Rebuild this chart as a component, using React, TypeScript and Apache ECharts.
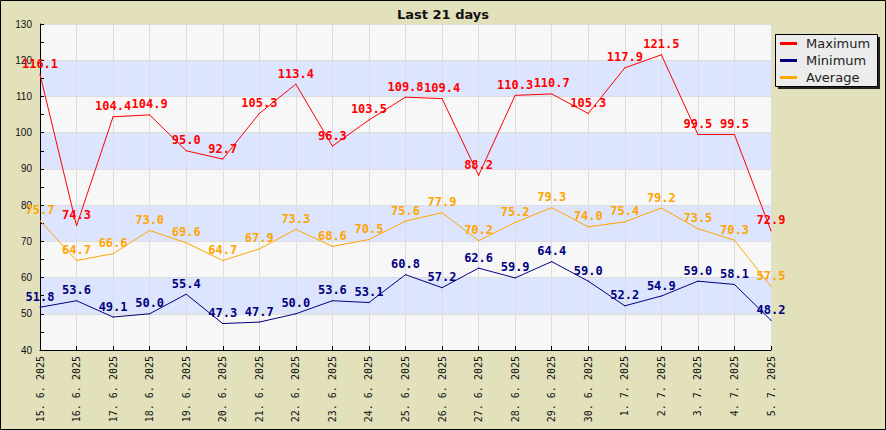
import React, { useEffect, useRef } from "react";
import * as echarts from "echarts";

const categories = [
  "15. 6. 2025", "16. 6. 2025", "17. 6. 2025", "18. 6. 2025", "19. 6. 2025",
  "20. 6. 2025", "21. 6. 2025", "22. 6. 2025", "23. 6. 2025", "24. 6. 2025",
  "25. 6. 2025", "26. 6. 2025", "27. 6. 2025", "28. 6. 2025", "29. 6. 2025",
  "30. 6. 2025", "1. 7. 2025", "2. 7. 2025", "3. 7. 2025", "4. 7. 2025", "5. 7. 2025",
];
const maximum = [116.1, 74.3, 104.4, 104.9, 95.0, 92.7, 105.3, 113.4, 96.3, 103.5, 109.8, 109.4, 88.2, 110.3, 110.7, 105.3, 117.9, 121.5, 99.5, 99.5, 72.9];
const minimum = [51.8, 53.6, 49.1, 50.0, 55.4, 47.3, 47.7, 50.0, 53.6, 53.1, 60.8, 57.2, 62.6, 59.9, 64.4, 59.0, 52.2, 54.9, 59.0, 58.1, 48.2];
const average = [75.7, 64.7, 66.6, 73.0, 69.6, 64.7, 67.9, 73.3, 68.6, 70.5, 75.6, 77.9, 70.2, 75.2, 79.3, 74.0, 75.4, 79.2, 73.5, 70.3, 57.5];

const seriesDefs = [
  { name: "Maximum", data: maximum, color: "#ff0000" },
  { name: "Minimum", data: minimum, color: "#000080" },
  { name: "Average", data: average, color: "#ffa500" },
];

export default function App() {
  const ref = useRef<HTMLDivElement>(null);
  useEffect(() => {
    document.body.style.margin = "0";
    const chart = echarts.init(ref.current!, null, { renderer: "svg" });
    chart.setOption({
      animation: false,
      backgroundColor: "#e3e0bc",
      title: {
        text: "Last 21 days",
        left: "center",
        top: 3,
        textStyle: { fontFamily: "DejaVu Sans", fontWeight: "bold", fontSize: 13, color: "#111" },
      },
      graphic: [
        {
          type: "rect",
          shape: { x: 0.5, y: 0.5, width: 885, height: 429 },
          style: { fill: "none", stroke: "#000", lineWidth: 1 },
          z: 100,
        },
        {
          type: "rect",
          shape: { x: 778, y: 37, width: 102, height: 52 },
          style: { fill: "#222", stroke: "none" },
          z: 1,
        },
        {
          type: "rect",
          shape: { x: 775.5, y: 34.5, width: 102, height: 52 },
          style: { fill: "#ececec", stroke: "#000", lineWidth: 1 },
          z: 2,
        },
      ],
      legend: {
        orient: "vertical",
        left: 780,
        top: 36,
        padding: 0,
        itemGap: 2,
        itemWidth: 17,
        itemHeight: 3,
        icon: "rect",
        z: 10,
        data: seriesDefs.map((s) => s.name),
        textStyle: { fontFamily: "DejaVu Sans", fontSize: 13, color: "#222", lineHeight: 15, padding: [0, 0, 0, 4] },
      },
      grid: { left: 40, right: 115, top: 24, bottom: 80, containLabel: false },
      xAxis: {
        type: "category",
        boundaryGap: false,
        data: categories,
        axisLine: { lineStyle: { color: "#000", width: 1 } },
        axisTick: { inside: true, length: 4, alignWithLabel: true, lineStyle: { color: "#000" } },
        axisLabel: {
          rotate: 90,
          margin: 6,
          interval: 0,
          fontFamily: "DejaVu Sans Mono",
          fontSize: 10,
          color: "#111",
        },
        splitLine: { show: true, lineStyle: { color: "#dddddd", width: 1 } },
      },
      yAxis: {
        type: "value",
        min: 40,
        max: 130,
        interval: 10,
        axisLine: { show: true, lineStyle: { color: "#000", width: 1 } },
        axisTick: { show: true, inside: true, length: 4, lineStyle: { color: "#000" } },
        minorTick: { show: true, splitNumber: 2, length: 4, lineStyle: { color: "#000" } },
        axisLabel: { margin: 8, fontFamily: "Liberation Sans", fontSize: 10, color: "#111" },
        splitLine: { show: true, lineStyle: { color: "#dddddd", width: 1 } },
        splitArea: { show: true, areaStyle: { color: ["#f7f7f7", "#dde4fd"] } },
      },
      series: seriesDefs.map((s) => ({
        name: s.name,
        type: "line",
        data: s.data,
        symbol: "circle",
        symbolSize: 1,
        showSymbol: true,
        color: s.color,
        lineStyle: { color: s.color, width: 1 },
        itemStyle: { color: s.color },
        label: {
          show: true,
          position: "top",
          distance: 4,
          color: s.color,
          fontFamily: "DejaVu Sans Mono",
          fontWeight: "bold",
          fontSize: 12,
          formatter: (p: any) => Number(p.value).toFixed(1),
        },
        emphasis: { disabled: true },
      })),
    });
    return () => chart.dispose();
  }, []);
  return <div ref={ref} style={{ width: 886, height: 430 }} />;
}
